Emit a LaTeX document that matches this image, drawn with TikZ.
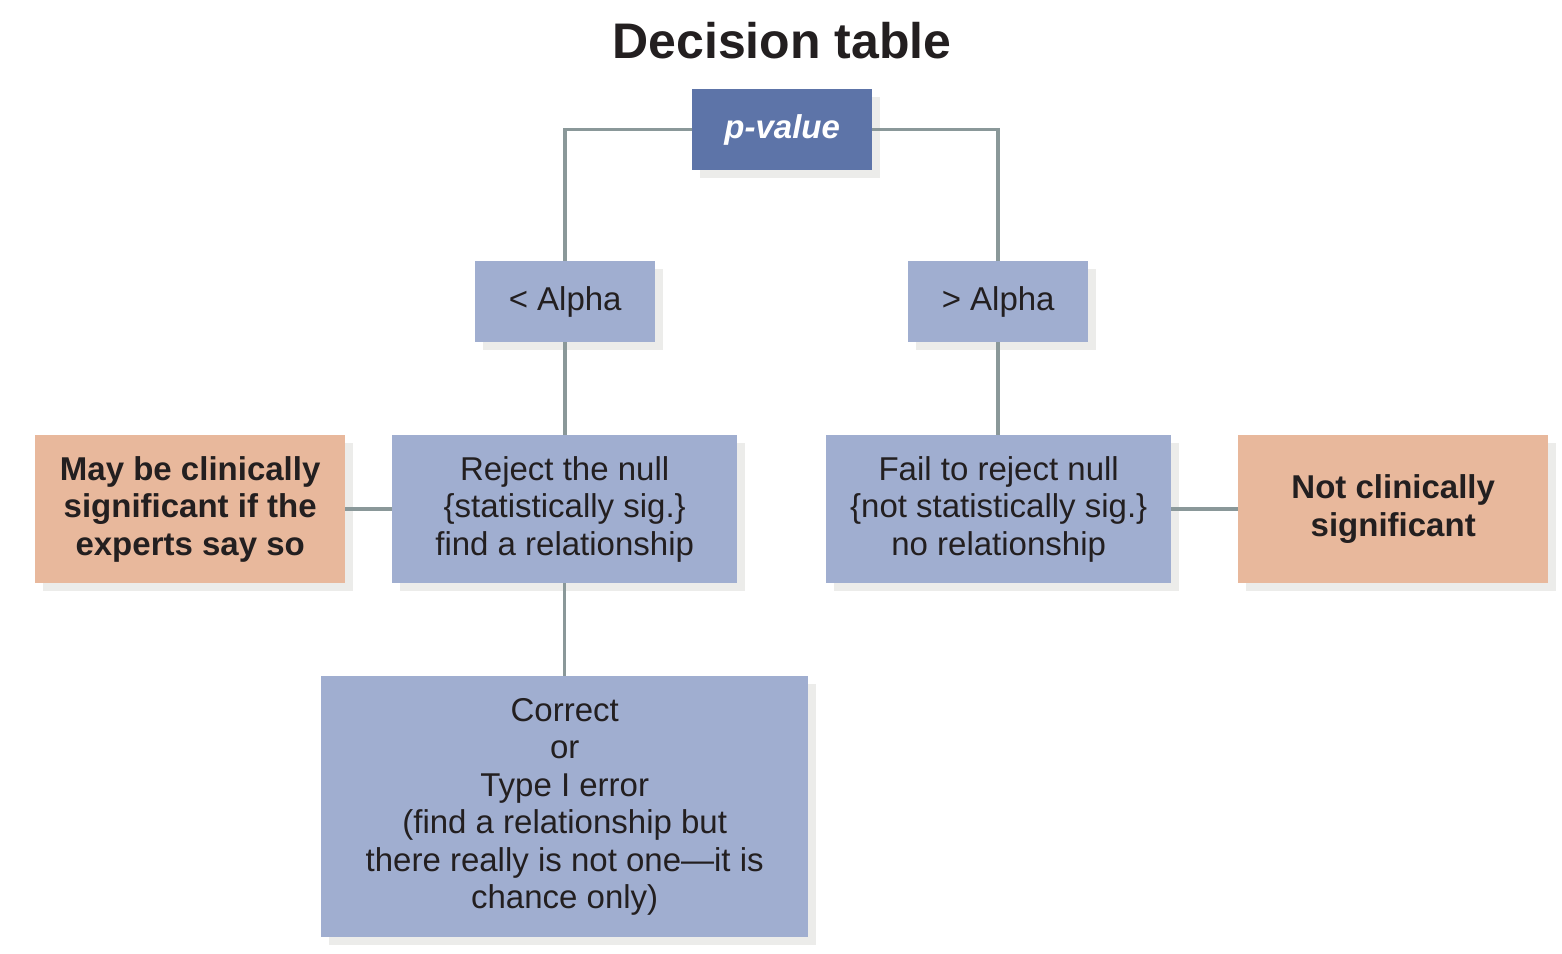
\documentclass[tikz,border=0pt]{standalone}
\usepackage{fontspec}
\setmainfont{Liberation Sans}
\definecolor{dblue}{RGB}{93,116,168}
\definecolor{lblue}{RGB}{160,174,208}
\definecolor{orng}{RGB}{232,184,156}
\definecolor{shad}{RGB}{236,236,234}
\definecolor{conn}{RGB}{138,152,153}
\definecolor{txt}{RGB}{35,31,32}
\begin{document}
\begin{tikzpicture}[x=1pt,y=-1pt,
  box/.style={draw=none,inner sep=0pt,align=center,text=txt,
    font=\fontsize{33}{37.5}\selectfont},
  conn/.style={draw=conn,line width=3.5pt,line join=miter}]
\useasboundingbox (0,0) rectangle (1562,953);
\newcommand{\bx}[7]{%
  \fill[shad] (#2+8,#3+8) rectangle (#4+8,#5+8);
  \node[box,fill=#6,minimum width=#4-#2,minimum height=#5-#3,anchor=north west] (#1) at (#2,#3) {#7};}
\node[font=\fontsize{50}{54}\selectfont\bfseries,text=txt] (title) at (782,41) {Decision table};
\bx{pv}{692}{89}{872}{170}{dblue}{\color{white}\bfseries\itshape p-value}
\bx{la}{475}{261}{655}{342}{lblue}{< Alpha}
\bx{ga}{908}{261}{1088}{342}{lblue}{> Alpha}
\bx{rej}{392}{435}{737}{583}{lblue}{Reject the null\\\{statistically sig.\}\\find a relationship}
\bx{fail}{826}{435}{1171}{583}{lblue}{Fail to reject null\\\{not statistically sig.\}\\no relationship}
\bx{may}{35}{435}{345}{583}{orng}{\bfseries May be clinically\\\bfseries significant if the\\\bfseries experts say so}
\bx{not}{1238}{435}{1548}{583}{orng}{\bfseries Not clinically\\\bfseries significant}
\bx{cor}{321}{676}{808}{937}{lblue}{Correct\\or\\Type I error\\(find a relationship but\\there really is not one—it is\\chance only)}
\draw[conn] (pv.west) -| (la.north);
\draw[conn] (pv.east) -| (ga.north);
\draw[conn] (la.south) -- (la.south |- rej.north);
\draw[conn] (rej.south) -- (rej.south |- cor.north);
\draw[conn] (ga.south) -- (ga.south |- fail.north);
\draw[conn] (may.east) -- (rej.west);
\draw[conn] (fail.east) -- (not.west);
\end{tikzpicture}
\end{document}
